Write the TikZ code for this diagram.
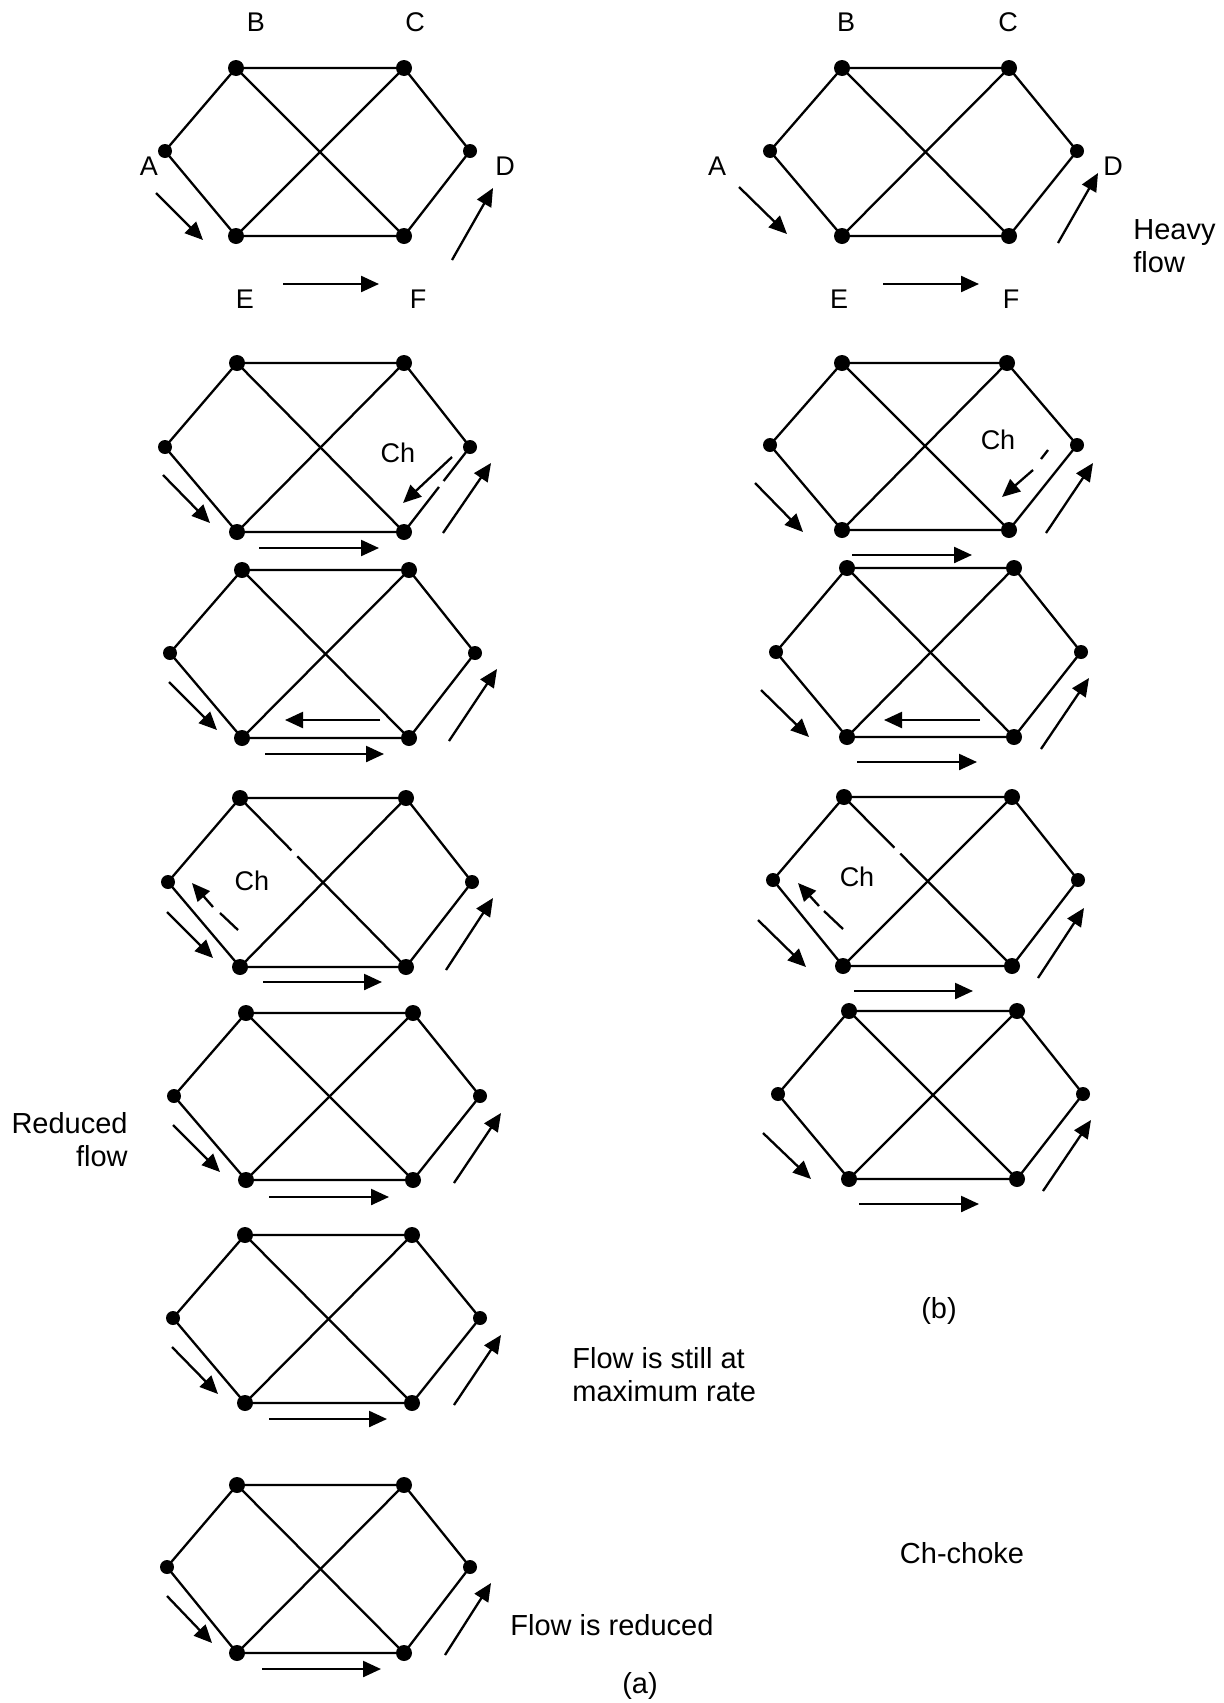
\documentclass[tikz,border=0pt]{standalone}
\usepackage{fontspec}
\setmainfont{Liberation Sans}
\usetikzlibrary{arrows.meta,calc}
\tikzset{
 dot/.style={circle,fill=black,inner sep=0pt,minimum size=8pt},
 sdot/.style={circle,fill=black,inner sep=0pt,minimum size=7pt},
 edge/.style={line width=1.15pt},
 flowarr/.style={line width=1.15pt,-{Triangle[length=9pt,width=8pt]}},
 lbl/.style={font=\fontsize{13.5}{16}\selectfont,inner sep=0pt},
 txt/.style={font=\fontsize{14.5}{16.5}\selectfont,inner sep=0pt},
}
\newcommand\netnodes[7]{%
 \node[sdot] (#1A) at (#2) {};
 \node[dot] (#1B) at (#3) {};
 \node[dot] (#1C) at (#4) {};
 \node[sdot] (#1D) at (#5) {};
 \node[dot] (#1E) at (#6) {};
 \node[dot] (#1F) at (#7) {};}
\newcommand\netedges[1]{%
 \draw[edge] (#1A.center) -- (#1B.center) -- (#1C.center) -- (#1D.center) -- (#1F.center) -- (#1E.center) -- cycle;
 \draw[edge] (#1B.center) -- (#1F.center);
 \draw[edge] (#1C.center) -- (#1E.center);}
\newcommand\netedgesgapBF[3]{%
 \draw[edge] (#1A.center) -- (#1B.center) -- (#1C.center) -- (#1D.center) -- (#1F.center) -- (#1E.center) -- cycle;
 \draw[edge] (#1B.center) -- ($(#1B.center)!#2!(#1F.center)$);
 \draw[edge] ($(#1B.center)!#3!(#1F.center)$) -- (#1F.center);
 \draw[edge] (#1C.center) -- (#1E.center);}
\newcommand\farrow[2]{\draw[flowarr] (#1) -- (#2);}
\begin{document}
\begin{tikzpicture}[x=0.5pt,y=-0.5pt]
\useasboundingbox (0,0) rectangle (1224,1703);

% ---------- row 1 left
\netnodes{ga}{165,151}{236,68}{404,68}{470,151}{236,236}{404,236}
\netedges{ga}
\farrow{156,193}{203,240}
\farrow{283,284}{379,284}
\farrow{452,260}{493,188}
\node[lbl] (laB) at (256,22) {B};
\node[lbl] (laC) at (415,22) {C};
\node[lbl] (laA) at (149,166) {A};
\node[lbl] (laD) at (505,166) {D};
\node[lbl] (laE) at (245,299) {E};
\node[lbl] (laF) at (418,299) {F};

% ---------- row 1 right
\netnodes{gb}{770,151}{842,68}{1009,68}{1077,151}{842,236}{1009,236}
\netedges{gb}
\farrow{739,187}{787,234}
\farrow{883,284}{979,284}
\farrow{1058,243}{1098,173}
\node[lbl] (lbB) at (846,22) {B};
\node[lbl] (lbC) at (1008,22) {C};
\node[lbl] (lbA) at (717,166) {A};
\node[lbl] (lbD) at (1113,166) {D};
\node[lbl] (lbE) at (839,299) {E};
\node[lbl] (lbF) at (1011,299) {F};
\node[txt,align=left,anchor=west] (heavy) at (1133,246) {Heavy\\flow};

% ---------- row 2 left (gap in D--F)
\netnodes{gc}{165,447}{237,363}{404,363}{470,447}{237,532}{404,532}
\draw[edge] ($(gcD.center)!0.40!(gcF.center)$) -- (gcD.center) -- (gcC.center) -- (gcB.center) -- (gcA.center) -- (gcE.center) -- (gcF.center) -- ($(gcD.center)!0.47!(gcF.center)$);
\draw[edge] (gcB.center) -- (gcF.center);
\draw[edge] (gcC.center) -- (gcE.center);
\node[lbl] (lcCh) at (398,453) {Ch};
\farrow{452,457}{403,503}
\farrow{163,475}{210,523}
\farrow{259,548}{379,548}
\farrow{443,533}{491,463}

% ---------- row 2 right
\netnodes{gd}{770,445}{842,363}{1007,363}{1077,445}{842,530}{1009,530}
\netedges{gd}
\node[lbl] (ldCh) at (998,440) {Ch};
\draw[edge] (1048,450) -- (1041,459);
\farrow{1033,470}{1002,497}
\farrow{755,483}{803,532}
\farrow{852,555}{972,555}
\farrow{1046,533}{1093,463}

% ---------- row 3 left
\netnodes{ge}{170,653}{242,570}{409,570}{475,653}{242,738}{409,738}
\netedges{ge}
\farrow{380,720}{285,720}
\farrow{265,754}{384,754}
\farrow{169,682}{217,730}
\farrow{449,741}{497,669}

% ---------- row 3 right
\netnodes{gf}{776,652}{847,568}{1014,568}{1081,652}{847,737}{1014,737}
\netedges{gf}
\farrow{980,720}{884,720}
\farrow{857,762}{977,762}
\farrow{761,690}{809,737}
\farrow{1041,749}{1089,678}

% ---------- row 4 left
\netnodes{gg}{168,882}{240,798}{406,798}{472,882}{240,967}{406,967}
\netedgesgapBF{gg}{0.31}{0.345}
\node[lbl] (lgCh) at (252,881) {Ch};
\draw[edge] (238,930) -- (220,913);
\farrow{213,907}{192,883}
\farrow{167,912}{213,958}
\farrow{263,982}{382,982}
\farrow{446,970}{493,898}

% ---------- row 4 right
\netnodes{gh}{773,880}{844,797}{1012,797}{1078,880}{843,966}{1012,966}
\netedgesgapBF{gh}{0.30}{0.335}
\node[lbl] (lhCh) at (857,877) {Ch};
\draw[edge] (843,929) -- (824,911);
\farrow{819,906}{798,883}
\farrow{758,920}{806,967}
\farrow{854,991}{973,991}
\farrow{1038,978}{1084,908}

% ---------- row 5 left
\netnodes{gi}{174,1096}{246,1013}{413,1013}{480,1096}{246,1180}{413,1180}
\netedges{gi}
\farrow{173,1125}{220,1172}
\farrow{269,1197}{389,1197}
\farrow{454,1183}{501,1113}
\node[txt,align=right,anchor=east] (reduced) at (128,1140) {Reduced\\flow};

% ---------- row 5 right
\netnodes{gj}{778,1094}{849,1011}{1017,1011}{1083,1094}{849,1179}{1017,1179}
\netedges{gj}
\farrow{763,1133}{811,1179}
\farrow{859,1204}{979,1204}
\farrow{1043,1191}{1091,1120}

% ---------- row 6 left
\netnodes{gk}{173,1318}{245,1235}{412,1235}{480,1318}{245,1403}{412,1403}
\netedges{gk}
\farrow{172,1347}{218,1394}
\farrow{269,1419}{387,1419}
\farrow{454,1405}{501,1335}
\node[txt,align=left,anchor=west] (still) at (572,1375) {Flow is still at\\maximum rate};

% ---------- row 7 left
\netnodes{gl}{167,1567}{237,1485}{404,1485}{470,1567}{237,1653}{404,1653}
\netedges{gl}
\farrow{167,1596}{212,1643}
\farrow{262,1669}{381,1669}
\farrow{445,1655}{491,1583}
\node[txt] (reducedb) at (612,1625) {Flow is reduced};

% ---------- captions
\node[txt] (capb) at (939,1311) {(b)};
\node[txt] (choke) at (962,1553) {Ch-choke};
\node[txt] (capa) at (640,1686) {(a)};
\end{tikzpicture}
\end{document}
